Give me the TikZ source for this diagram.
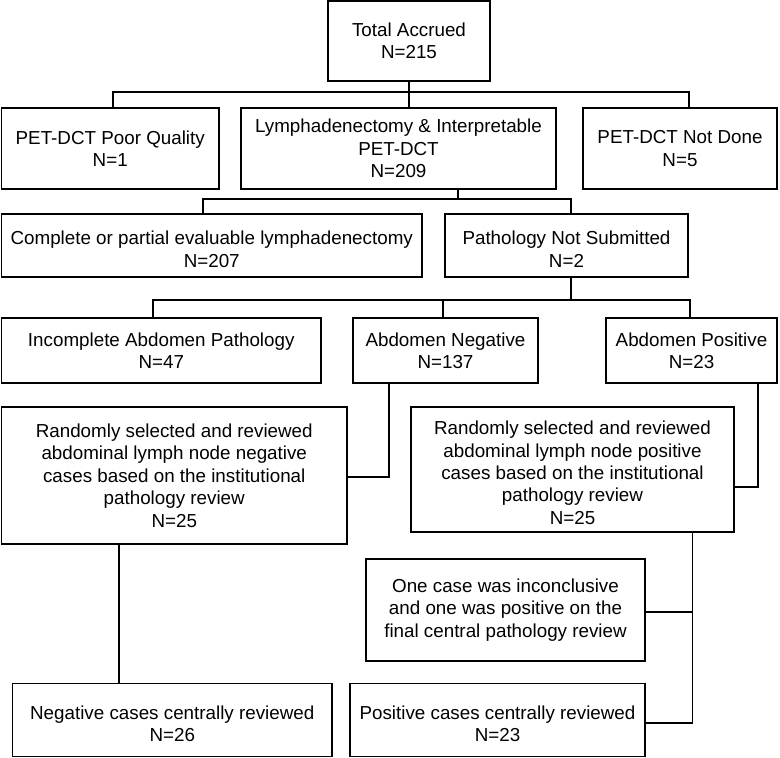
\documentclass[tikz,border=0pt]{standalone}
\usepackage{fontspec}
\setmainfont{Liberation Sans}
\newcommand{\lowerby}[1]{\rule{0pt}{#1}}
\begin{document}
\begin{tikzpicture}[x=1pt,y=-1pt,
  box/.style={draw, line width=1.8pt, inner sep=0pt, align=center,
    font=\fontsize{18.8}{22.4}\selectfont},
  conn/.style={line width=1.8pt}]
\useasboundingbox (0,0) rectangle (780,758);
% row 1
\node[box, minimum width=162pt, minimum height=80pt] (total) at (409,41) {Total Accrued\\N=215};
% row 2
\node[box, minimum width=217.5pt, minimum height=81pt] (poor) at (110.25,148.5) {PET-DCT Poor Quality\\N=1};
\node[box, minimum width=315pt, minimum height=81pt] (lymph) at (398.5,148.5) {Lymphadenectomy \& Interpretable\\PET-DCT\\N=209};
\node[box, minimum width=194pt, minimum height=81pt] (notdone) at (680,148.5) {PET-DCT Not Done\\N=5};
% row 3
\node[box, minimum width=420.5pt, minimum height=63pt] (complete) at (211.75,245.5) {\lowerby{21pt}Complete or partial evaluable lymphadenectomy\\N=207};
\node[box, minimum width=243pt, minimum height=63pt] (pns) at (566.5,245.5) {\lowerby{21pt}Pathology Not Submitted\\N=2};
% row 4
\node[box, minimum width=319.5pt, minimum height=65pt] (incomplete) at (161.25,350.5) {Incomplete Abdomen Pathology\\N=47};
\node[box, minimum width=185pt, minimum height=65pt] (neg) at (445.5,350.5) {Abdomen Negative\\N=137};
\node[box, minimum width=171pt, minimum height=65pt] (pos) at (691.5,350.5) {Abdomen Positive\\N=23};
% row 5
\node[box, minimum width=345.5pt, minimum height=137pt] (rneg) at (174.25,475.5) {Randomly selected and reviewed\\abdominal lymph node negative\\cases based on the institutional\\pathology review\\N=25};
\node[box, minimum width=323pt, minimum height=125pt] (rpos) at (572.5,469.5) {\lowerby{20.3pt}Randomly selected and reviewed\\abdominal lymph node positive\\cases based on the institutional\\pathology review\\N=25};
% row 6
\node[box, minimum width=279pt, minimum height=102pt] (incon) at (505.5,610) {One case was inconclusive\\and one was positive on the\\final central pathology review};
% row 7
\node[box, minimum width=319.5pt, minimum height=73pt] (negc) at (172.25,720) {\lowerby{21.7pt}Negative cases centrally reviewed\\N=26};
\node[box, minimum width=295pt, minimum height=73pt] (posc) at (497.5,720) {\lowerby{21.7pt}Positive cases centrally reviewed\\N=23};
% connectors
\coordinate (b1) at ([yshift=-9.7pt]total.south);
\draw[conn] (total.south) -- (b1) -- (b1 |- lymph.north);
\draw[conn] ([xshift=2.75pt]poor.north) |- (b1) -| ([xshift=9pt]notdone.north);
\coordinate (b2) at ([xshift=59.5pt,yshift=-9.3pt]lymph.south);
\draw[conn] ([xshift=59.5pt]lymph.south) -- (b2);
\draw[conn] ([xshift=-8.75pt]complete.north) |- (b2) -| ([xshift=4.5pt]pns.north);
\coordinate (b3) at ([xshift=4.5pt,yshift=-22pt]pns.south);
\draw[conn] ([xshift=4.5pt]pns.south) -- (b3) -- (b3 -| neg.north);
\draw[conn] ([xshift=-2.5pt]neg.north) |- (b3);
\draw[conn] ([xshift=-8.25pt]incomplete.north) |- (b3) -| ([xshift=-1.5pt]pos.north);
\draw[conn] ([xshift=-56.5pt]neg.south) |- ([yshift=-1.5pt]rneg.east);
\draw[conn] ([xshift=66.5pt]pos.south) |- ([yshift=-17.5pt]rpos.east);
\draw[conn] ([xshift=-55.25pt]rneg.south) -- ([xshift=-53.25pt]negc.north);
\coordinate (r7) at ([xshift=120pt]rpos.south);
\draw[conn] (r7) |- ([yshift=-3pt]posc.east);
\draw[conn] ([yshift=-2pt]incon.east) coordinate (ie) -- (ie -| r7);
\end{tikzpicture}
\end{document}
